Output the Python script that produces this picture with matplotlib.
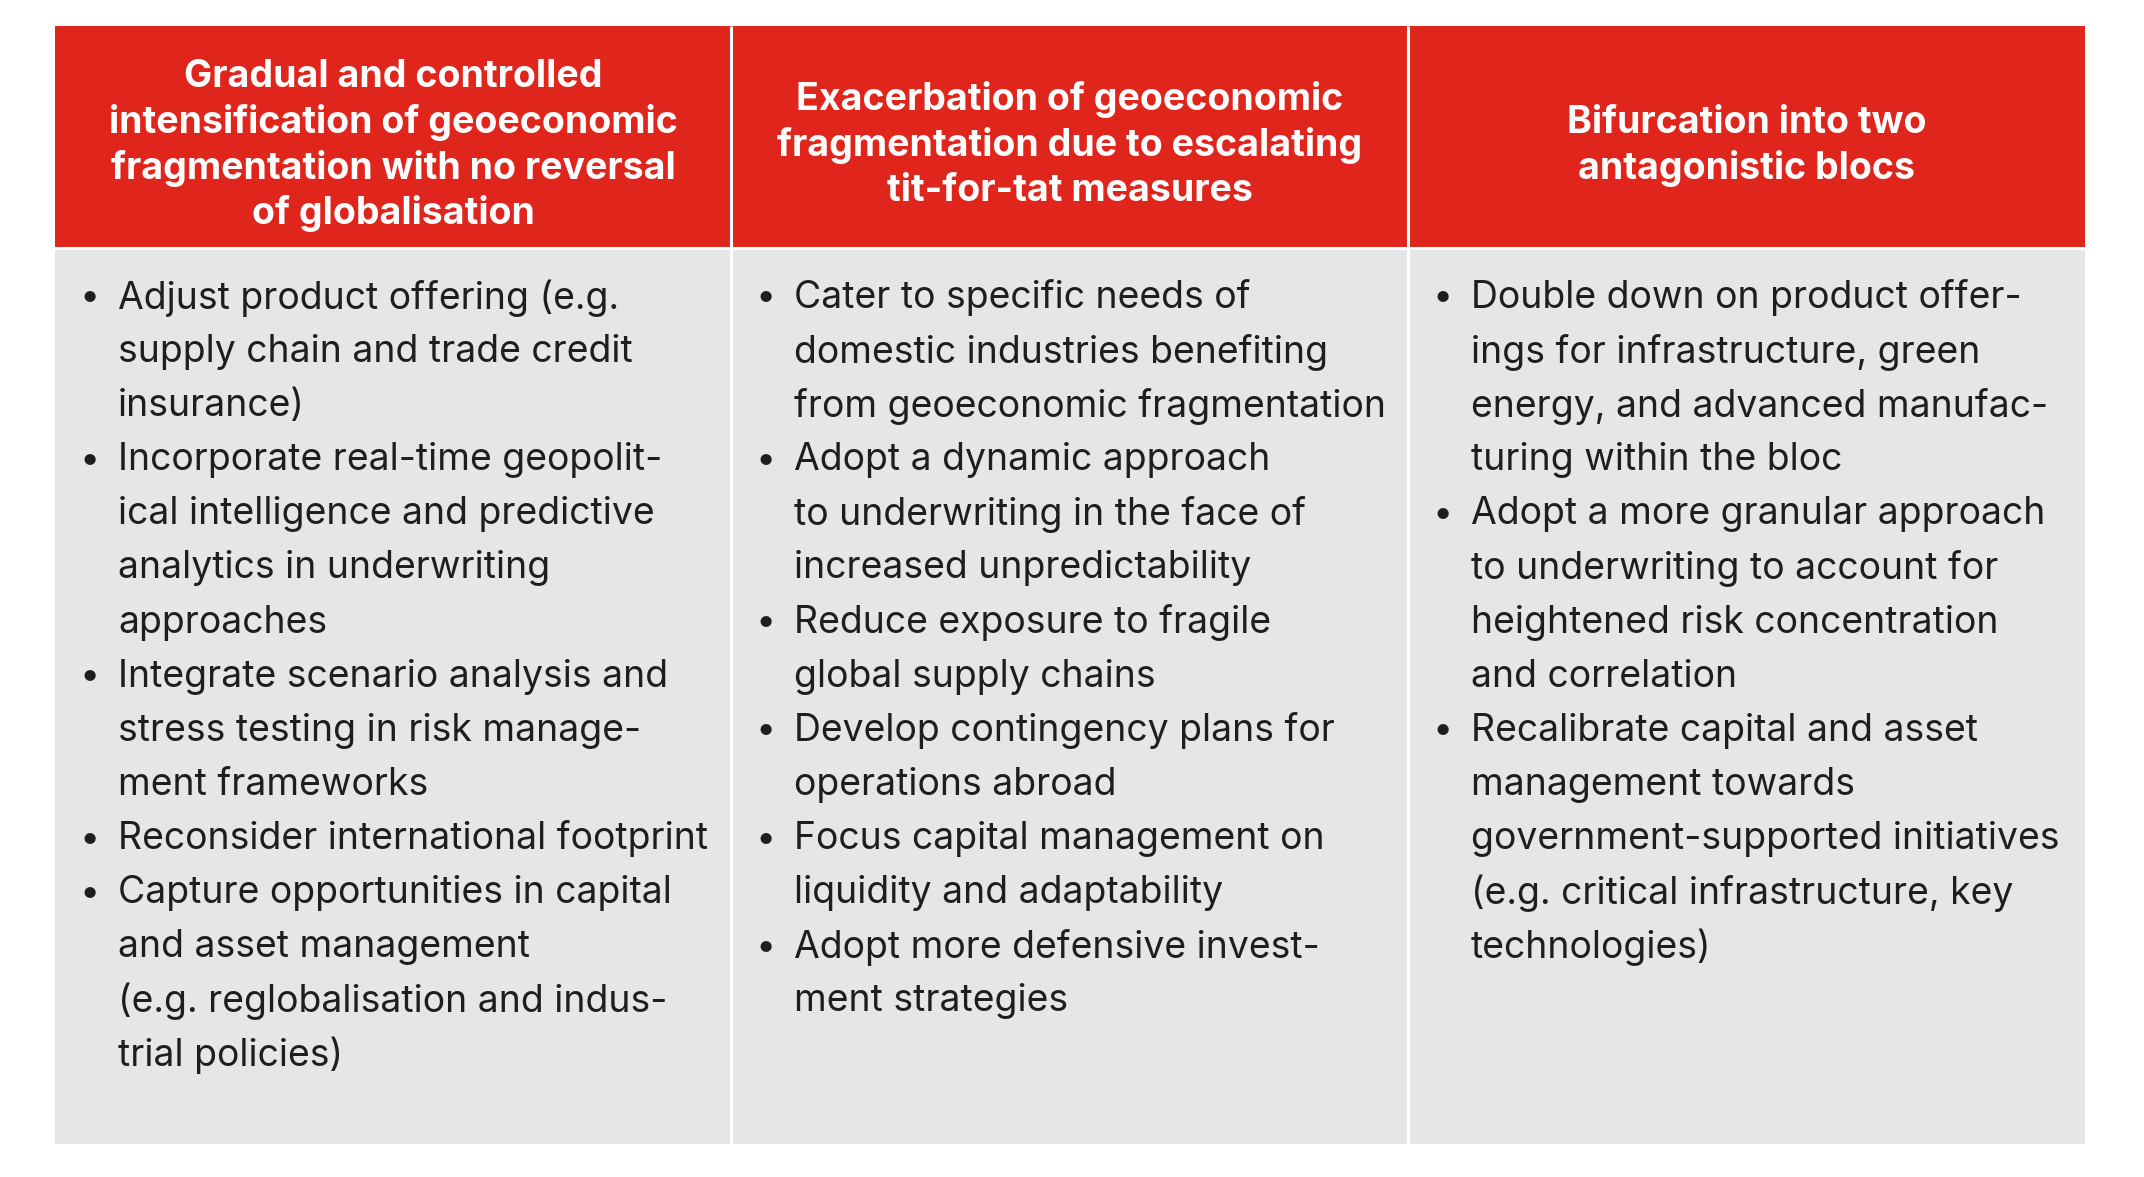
import matplotlib
matplotlib.use("Agg")
import matplotlib.pyplot as plt
from matplotlib.patches import Rectangle

plt.rcParams['font.family'] = ['Inter', 'DejaVu Sans']

headers = [
    ["Gradual and controlled", "intensification of geoeconomic",
     "fragmentation with no reversal", "of globalisation"],
    ["Exacerbation of geoeconomic", "fragmentation due to escalating",
     "tit-for-tat measures"],
    ["Bifurcation into two", "antagonistic blocs"],
]

col1_items = [
    ["Adjust product offering (e.g.", "supply chain and trade credit", "insurance)"],
    ["Incorporate real-time geopolit-", "ical intelligence and predictive",
     "analytics in underwriting", "approaches"],
    ["Integrate scenario analysis and", "stress testing in risk manage-",
     "ment frameworks"],
    ["Reconsider international footprint"],
    ["Capture opportunities in capital", "and asset management",
     "(e.g. reglobalisation and indus-", "trial policies)"],
]
col2_items = [
    ["Cater to specific needs of", "domestic industries benefiting",
     "from geoeconomic fragmentation"],
    ["Adopt a dynamic approach", "to underwriting in the face of",
     "increased unpredictability"],
    ["Reduce exposure to fragile", "global supply chains"],
    ["Develop contingency plans for", "operations abroad"],
    ["Focus capital management on", "liquidity and adaptability"],
    ["Adopt more defensive invest-", "ment strategies"],
]
col3_items = [
    ["Double down on product offer-", "ings for infrastructure, green",
     "energy, and advanced manufac-", "turing within the bloc"],
    ["Adopt a more granular approach", "to underwriting to account for",
     "heightened risk concentration", "and correlation"],
    ["Recalibrate capital and asset", "management towards",
     "government-supported initiatives", "(e.g. critical infrastructure, key",
     "technologies)"],
]
columns = [col1_items, col2_items, col3_items]

RED = "#E0261C"
GRAY = "#E5E6E8"
TEXT = "#1E1E1E"

W, H = 2144, 1177
fig = plt.figure(figsize=(W / 100, H / 100), dpi=100)
ax = fig.add_axes([0, 0, 1, 1])
ax.set_xlim(0, W)
ax.set_ylim(H, 0)
ax.axis('off')

left, right = 55, 2085
top, hdr_bot, bottom = 26, 248, 1144
col_edges = [left, 731, 1408, right]

for i in range(3):
    x0, x1 = col_edges[i], col_edges[i + 1]
    ax.add_patch(Rectangle((x0, top), x1 - x0, hdr_bot - top, facecolor=RED,
                           edgecolor='none'))
    ax.add_patch(Rectangle((x0, hdr_bot), x1 - x0, bottom - hdr_bot,
                           facecolor=GRAY, edgecolor='none'))
# white separators
for xe in col_edges[1:-1]:
    ax.plot([xe, xe], [top, bottom], color='white', lw=2.2, solid_capstyle='butt')
ax.plot([left, right], [hdr_bot, hdr_bot], color='white', lw=2.2)

hdr_center = (top + hdr_bot) / 2 + 8.5
hdr_ls = 45.5
for i, lines in enumerate(headers):
    cx = (col_edges[i] + col_edges[i + 1]) / 2
    n = len(lines)
    for j, ln in enumerate(lines):
        y = hdr_center + (j - (n - 1) / 2) * hdr_ls
        ax.text(cx, y, ln, ha='center', va='center', color='white',
                fontsize=27, fontweight='bold')

body_y0 = 298
body_ls = 54.1
for i, items in enumerate(columns):
    bx = col_edges[i] + 35
    tx = col_edges[i] + 63
    k = 0
    for item in items:
        for j, ln in enumerate(item):
            y = body_y0 + k * body_ls
            if j == 0:
                ax.text(bx, y, "\u2022", ha='center', va='center', color=TEXT,
                        fontsize=26)
            ax.text(tx, y, ln, ha='left', va='center', color=TEXT,
                    fontsize=26.9)
            k += 1

fig.savefig("out.png", dpi=100, facecolor='white')
